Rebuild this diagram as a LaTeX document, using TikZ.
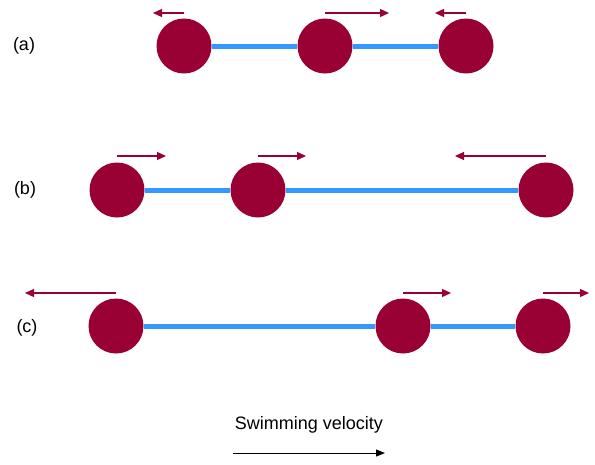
\documentclass[tikz,border=0pt]{standalone}
\usepackage{fontspec}
\setmainfont{Liberation Sans}
\usetikzlibrary{arrows.meta}
\definecolor{bead}{RGB}{153,0,51}
\definecolor{rod}{RGB}{51,153,255}
\begin{document}
\begin{tikzpicture}[
  x=1pt, y=-1pt,
  ball/.style = {circle, fill=bead, minimum size=55pt, inner sep=0pt},
  link/.style = {draw=rod, line width=5pt},
  vel/.style = {draw=bead, line width=1.3pt, -{Triangle[length=9pt,width=8pt]}},
  tag/.style = {font=\fontsize{18}{21}\selectfont},
  every node/.style = {inner sep=0pt}
]
  \useasboundingbox (0,0) rectangle (595,464);
  % row (a)
  \node[tag] (la) at (24,46) {(a)};
  \node[ball] (a1) at (184,46) {};
  \node[ball] (a2) at (325,46) {};
  \node[ball] (a3) at (466,46) {};
  \draw[link] (a1) -- (a2);
  \draw[link] (a2) -- (a3);
  \coordinate (a1v) at (153,13);
  \coordinate (a2v) at (389,13);
  \coordinate (a3v) at (435,13);
  \draw[vel] (a1 |- a1v) -- (a1v);
  \draw[vel] (a2 |- a2v) -- (a2v);
  \draw[vel] (a3 |- a3v) -- (a3v);
  % row (b)
  \node[tag] (lb) at (25,190) {(b)};
  \node[ball] (b1) at (117,190) {};
  \node[ball] (b2) at (258,190) {};
  \node[ball] (b3) at (546,190) {};
  \draw[link] (b1) -- (b2);
  \draw[link] (b2) -- (b3);
  \coordinate (b1v) at (166,156);
  \coordinate (b2v) at (306,156);
  \coordinate (b3v) at (455,156);
  \draw[vel] (b1 |- b1v) -- (b1v);
  \draw[vel] (b2 |- b2v) -- (b2v);
  \draw[vel] (b3 |- b3v) -- (b3v);
  % row (c)
  \node[tag] (lc) at (27,328) {(c)};
  \node[ball] (c1) at (116,326) {};
  \node[ball] (c2) at (403,326) {};
  \node[ball] (c3) at (543,326) {};
  \draw[link] (c1) -- (c2);
  \draw[link] (c2) -- (c3);
  \coordinate (c1v) at (25,293);
  \coordinate (c2v) at (451,293);
  \coordinate (c3v) at (589,293);
  \draw[vel] (c1 |- c1v) -- (c1v);
  \draw[vel] (c2 |- c2v) -- (c2v);
  \draw[vel] (c3 |- c3v) -- (c3v);
  % legend
  \node[tag] (sw) at (309,425) {Swimming velocity};
  \coordinate (sw0) at (233,453);
  \coordinate (sw1) at (385,453);
  \draw[line width=1pt, -{Triangle[length=9pt,width=7pt]}] (sw0) -- (sw1);
\end{tikzpicture}
\end{document}
